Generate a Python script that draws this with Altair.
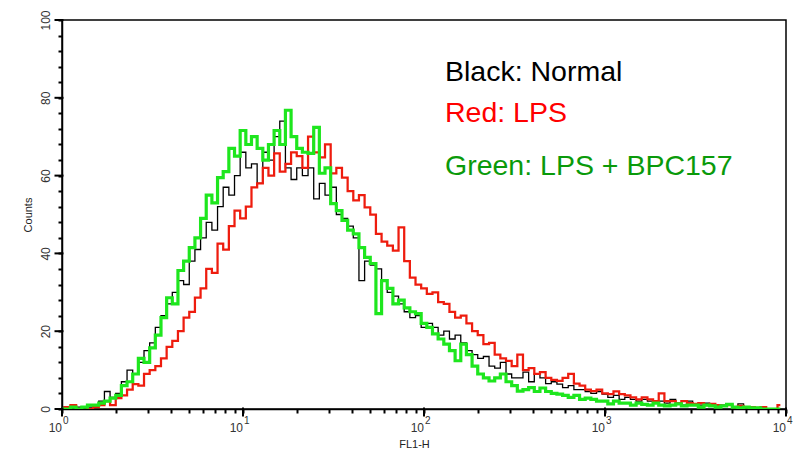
import altair as alt
import pandas as pd

# FACS histogram channels (256-channel, 4-decade log scale, every 2nd channel read)
channels = list(range(0, 256, 2))

normal = [0.5, 0, 1, 0.5, 0, 0.5, 1, 2, 4.5, 3, 4, 7, 10, 9, 12, 15, 17, 21, 24, 27,
          30, 33, 32, 38, 41, 44, 48, 46, 52, 57, 55, 60, 66, 62, 63, 58, 66, 64, 70, 74,
          62, 59, 62, 60, 62, 54, 58, 55, 57, 50, 49, 47, 44, 33, 38, 37, 36, 33, 30, 29,
          27, 25, 23.5, 24, 21, 22, 21, 19, 20, 18, 19, 17, 15, 14, 13, 13.5, 11, 10.5, 12, 9,
          8, 8, 9.5, 7, 9, 8, 6.5, 7, 6.4, 5.5, 6, 5, 5, 4.5, 4, 4.5, 3.8, 3, 3.5, 2.5,
          3, 2.5, 2, 2.5, 2, 1.5, 2, 1.5, 2.5, 1.5, 1, 2, 1, 1, 1.5, 1, 0.5, 1, 1.3, 0.5,
          1.3, 0.5, 0.5, 0, 0.5, 0, 0, 0]

lps = [0, 0.5, 1, 0, 0.5, 0, 0.5, 1, 2, 1, 2.8, 3.5, 5, 6.4, 6, 9, 10, 11, 13, 16,
       17.5, 20, 23.5, 25, 28.6, 31, 36, 35, 42.5, 41, 47, 51, 49, 52, 57, 58, 62, 60, 65.7, 61,
       63, 66, 65, 62, 70, 66, 64.7, 68, 60.6, 62, 59.5, 56, 53.6, 55, 51.8, 50, 45, 43, 42, 40.7,
       46.7, 38, 33.8, 32, 31, 29.6, 30, 27.5, 27, 25, 23.5, 24, 22, 20, 19, 16.7, 17, 14, 13, 12.4,
       11, 14, 10, 10.5, 9, 9.5, 8, 7.5, 7.2, 8, 9, 6.5, 6, 5, 4.6, 5, 4, 3.8, 4.5, 3.8,
       3.5, 3, 2.5, 3, 2.5, 2, 4, 2, 2, 1.5, 2, 1.5, 1.3, 1.5, 1, 1.3, 1, 0.8, 1, 0.5,
       0.8, 0.5, 0.5, 0.3, 0.5, 0, 0, 1]

lps_bpc = [0, 0, 0.5, 0, 0.5, 1, 1, 1.5, 2, 2.8, 3.5, 6, 7, 9, 13, 12, 15.7, 19, 23.5, 28.6,
           27, 35.6, 38, 41.5, 44, 49, 55, 53, 59.5, 61, 67, 65, 71.6, 68, 70, 67, 64, 68, 71.6, 68,
           76.8, 70, 67, 66, 65.7, 72.4, 60.6, 62, 52.8, 51, 48.5, 46, 45, 41.5, 39, 37.4, 24.5, 33, 31, 27,
           28, 26, 25, 24.5, 22, 21, 19.3, 18, 16.7, 15, 12.4, 16.7, 14, 11, 9, 8, 7.2, 8, 9, 7,
           6, 4.6, 5, 5.5, 4.5, 5.4, 4.5, 4, 3.8, 3.5, 3, 3.5, 2.5, 2.8, 2.5, 2, 2, 1.3, 2, 1.5,
           1.5, 1, 1.5, 1.2, 1, 1.5, 1, 0.8, 1, 1.3, 0.8, 1, 1, 0.5, 1, 0.8, 0.5, 0.8, 1.2, 0.5,
           0.3, 0.5, 0.3, 0.3, 0, 0, 0, 0]

series_names = ["Normal", "LPS", "LPS + BPC157"]
line_colors = ["#000000", "#ee1c0e", "#1ee61e"]
legend_texts = ["Black: Normal", "Red: LPS", "Green: LPS + BPC157"]
legend_colors = ["#000000", "#ff0000", "#0a9a0a"]

decade_values = [1, 10, 100, 1000, 10000]
decade_exps = ["0", "1", "2", "3", "4"]
x_tick_values = [m * d for d in [1, 10, 100, 1000] for m in range(1, 10)] + [10000]
y_tick_values = list(range(0, 101, 4))
y_major_values = list(range(0, 101, 20))

rows = []
for name, vals in zip(series_names, [normal, lps, lps_bpc]):
    for ch, v in zip(channels, vals):
        rows.append({"fl": 10 ** (ch / 64), "count": v, "series": name})
df = pd.DataFrame(rows)

W, H = 724, 389
FONT = "Liberation Sans Narrow, Liberation Sans, Arial"

xscale = alt.Scale(type="log", domain=[1, 10000], nice=False)
yscale = alt.Scale(domain=[0, 100], nice=False)

x_axis = alt.Axis(
    values=x_tick_values, labels=False, grid=False, title="FL1-H",
    tickSize=4, ticks=True, domain=True,
    tickColor="#000000", domainColor="#000000", domainWidth=1.5, tickWidth=2, tickOpacity=1,
    titleFont=FONT, titleFontSize=11, titleFontWeight="normal", titleColor="#222",
    titlePadding=24, titleX=352,
)
y_axis = alt.Axis(
    values=y_tick_values, grid=False, title="Counts",
    labelExpr="datum.value % 20 === 0 ? datum.label : ''",
    tickSize=4, ticks=True, domain=True,
    labelAngle=270, labelAlign="center", labelBaseline="bottom", labelPadding=6,
    labelFont=FONT, labelFontSize=12, labelColor="#333", labelOverlap=False,
    tickColor="#000000", domainColor="#000000", domainWidth=1.5, tickWidth=2, tickOpacity=1,
    titleFont=FONT, titleFontSize=11, titleFontWeight="normal", titleColor="#222",
    titlePadding=6,
)

lines = alt.Chart(df).mark_line(interpolate="step", clip=True).encode(
    x=alt.X("fl:Q", scale=xscale, axis=x_axis),
    y=alt.Y("count:Q", scale=yscale, axis=y_axis),
    color=alt.Color("series:N", scale=alt.Scale(domain=series_names, range=line_colors), legend=None),
    strokeWidth=alt.StrokeWidth("series:N", scale=alt.Scale(domain=series_names, range=[1.3, 3.2, 3.2]), legend=None),
    order=alt.Order("series_order:Q"),
    detail="series:N",
).transform_calculate(
    series_order="datum.series === 'Normal' ? 0 : (datum.series === 'LPS' ? 1 : 2)"
)

# longer major ticks at the decade / 20-count positions
ymaj_df = pd.DataFrame({"count": y_major_values})
y_major = alt.Chart(ymaj_df).mark_tick(
    color="#000000", orient="horizontal", size=9, thickness=2, opacity=1
).encode(
    y=alt.Y("count:Q", scale=yscale, axis=y_axis), x=alt.value(-3)
)
xmaj_df = pd.DataFrame({"fl": decade_values})
x_major = alt.Chart(xmaj_df).mark_tick(
    color="#000000", orient="vertical", size=9, thickness=2, opacity=1
).encode(
    x=alt.X("fl:Q", scale=xscale, axis=x_axis), y=alt.value(H + 3)
)

ticks_df = pd.DataFrame({"fl": decade_values, "exp": decade_exps})
base_lbl = alt.Chart(ticks_df).mark_text(
    font=FONT, fontSize=12, color="#333", align="right", baseline="alphabetic", dx=0
).encode(x=alt.X("fl:Q", scale=xscale, axis=x_axis), y=alt.value(H + 23), text=alt.value("10"))
exp_lbl = alt.Chart(ticks_df).mark_text(
    font=FONT, fontSize=10, color="#333", align="left", baseline="alphabetic", dx=1
).encode(x=alt.X("fl:Q", scale=xscale, axis=x_axis), y=alt.value(H + 15), text="exp:N")

legend_layers = []
for txt, col, ypix in zip(legend_texts, legend_colors, [61, 102, 155]):
    legend_layers.append(
        alt.Chart(alt.Data(values=[{}])).mark_text(
            font="Liberation Sans, Arial", fontSize=28.5, color=col, align="left", baseline="alphabetic"
        ).encode(x=alt.value(383), y=alt.value(ypix), text=alt.value(txt))
    )

chart = alt.layer(lines, y_major, x_major, base_lbl, exp_lbl, *legend_layers).properties(
    width=W, height=H,
    autosize=alt.AutoSizeParams(type="none"),
    padding={"left": 62, "top": 20, "right": 13, "bottom": 42},
    background="white",
).configure_view(stroke="black", strokeWidth=1.5).configure_axis(
    ticks=True, tickColor="#000000", tickOpacity=1
)

chart.save("out.html", embed_options={"renderer": "svg", "actions": False})
